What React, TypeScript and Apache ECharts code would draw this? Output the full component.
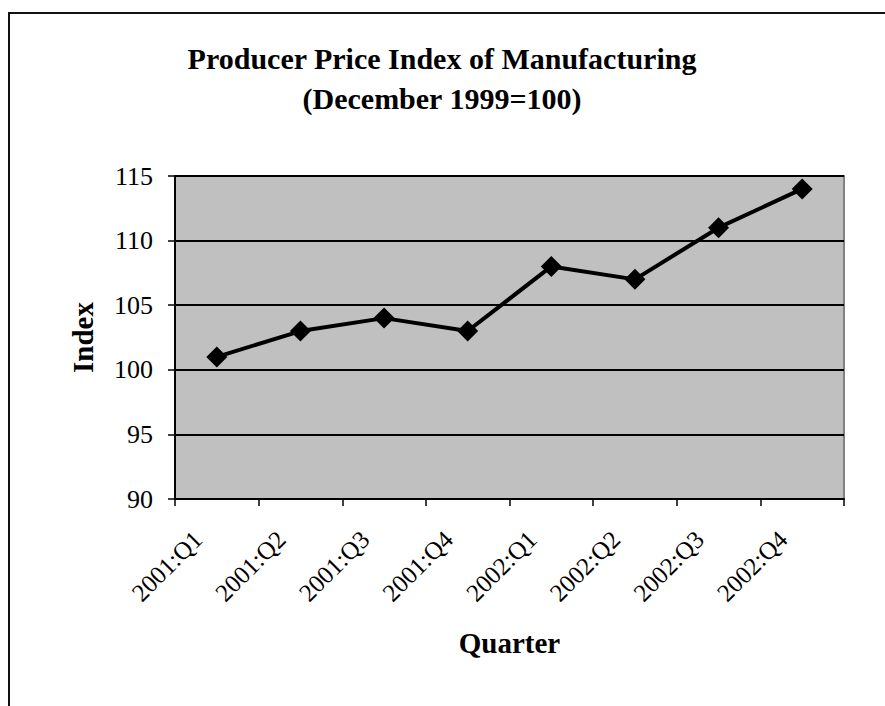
import React, { useEffect, useRef } from "react";
import * as echarts from "echarts";

const categories = ["2001:Q1", "2001:Q2", "2001:Q3", "2001:Q4", "2002:Q1", "2002:Q2", "2002:Q3", "2002:Q4"];
const indexValues = [101, 103, 104, 103, 108, 107, 111, 114];
const titleText = "Producer Price Index of Manufacturing\n(December 1999=100)";
const xName = "Quarter";
const yName = "Index";

const serif = "'Liberation Serif', 'Times New Roman', serif";

export default function App() {
  const ref = useRef<HTMLDivElement>(null);
  useEffect(() => {
    if (!ref.current) return;
    const chart = echarts.init(ref.current, null, { renderer: "svg" });
    chart.setOption({
      animation: false,
      backgroundColor: "#ffffff",
      title: {
        text: titleText,
        left: 437,
        top: 33,
        textAlign: "center",
        textStyle: {
          fontFamily: serif,
          fontWeight: "bold",
          fontSize: 30,
          lineHeight: 40,
          color: "#000",
        },
      },
      graphic: [
        { type: "line", shape: { x1: 9, y1: 13, x2: 9, y2: 710 }, style: { stroke: "#111", lineWidth: 2 } },
        { type: "line", shape: { x1: 8, y1: 13, x2: 890, y2: 13 }, style: { stroke: "#111", lineWidth: 2 } },
      ],
      grid: {
        left: 175,
        top: 176,
        right: 41,
        bottom: 207,
        show: true,
        backgroundColor: "#c0c0c0",
        borderColor: "#808080",
        borderWidth: 2,
      },
      xAxis: {
        type: "category",
        data: categories,
        boundaryGap: true,
        name: xName,
        nameLocation: "middle",
        nameGap: 129,
        nameTextStyle: { fontFamily: serif, fontWeight: "bold", fontSize: 29, color: "#000" },
        axisLine: { lineStyle: { color: "#000", width: 2 } },
        axisTick: { show: true, length: 7, lineStyle: { color: "#000", width: 1.5 } },
        axisLabel: {
          rotate: 45,
          fontFamily: serif,
          fontSize: 25,
          color: "#000",
          margin: 17,
          interval: 0,
          padding: [0, 27, 0, 0],
        },
        splitLine: { show: false },
      },
      yAxis: {
        type: "value",
        min: 90,
        max: 115,
        interval: 5,
        name: yName,
        nameLocation: "middle",
        nameGap: 78,
        nameTextStyle: { fontFamily: serif, fontWeight: "bold", fontSize: 29, color: "#000" },
        axisLine: { show: true, lineStyle: { color: "#000", width: 2 } },
        axisTick: { show: true, length: 7, lineStyle: { color: "#000", width: 1.5 } },
        axisLabel: { fontFamily: serif, fontSize: 26, color: "#000", margin: 22 },
        splitLine: { show: true, lineStyle: { color: "#000", width: 2 } },
      },
      series: [
        {
          type: "line",
          data: indexValues,
          symbol: "diamond",
          symbolSize: 21,
          itemStyle: { color: "#000" },
          lineStyle: { color: "#000", width: 4 },
        },
      ],
    });
    return () => chart.dispose();
  }, []);
  return <div ref={ref} style={{ position: "fixed", left: 0, top: 0, width: 885, height: 706 }} />;
}
